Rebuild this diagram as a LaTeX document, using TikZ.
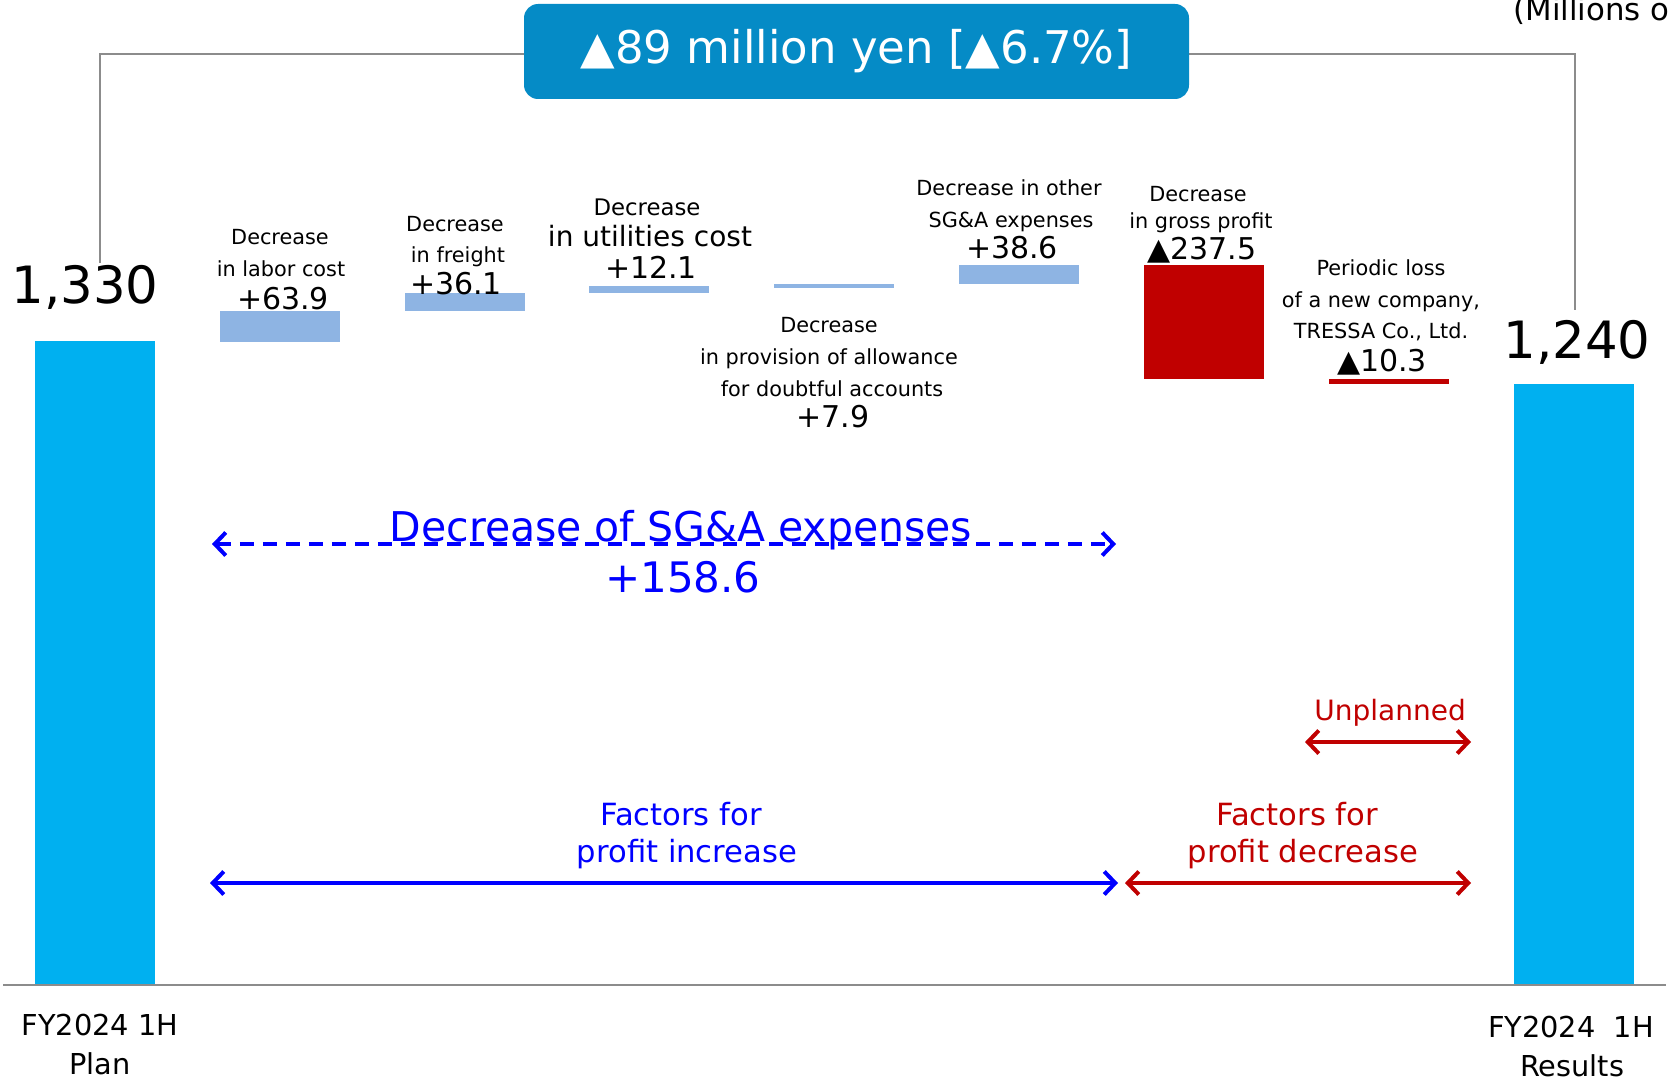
\documentclass[tikz,border=0pt]{standalone}
\usepackage{fontspec}
\setmainfont{DejaVu Sans}
\usetikzlibrary{arrows.meta}
\definecolor{barblue}{HTML}{00B0F0}
\definecolor{stepblue}{HTML}{8EB4E3}
\definecolor{lossred}{HTML}{C00000}
\definecolor{boxblue}{HTML}{058BC6}
\definecolor{linegray}{HTML}{8C8C8C}
\definecolor{textblue}{HTML}{0000FF}

\begin{document}
\begin{tikzpicture}[x=0.5pt,y=-0.5pt,
    lbl/.style={inner sep=0pt, anchor=base, font=\fontsize{10.4}{12}\selectfont},
    val/.style={inner sep=0pt, anchor=base, font=\fontsize{15}{18}\selectfont},
    total/.style={inner sep=0pt, anchor=base, font=\fontsize{25.7}{30}\selectfont},
    period/.style={inner sep=0pt, anchor=base, font=\fontsize{14.4}{17}\selectfont},
    factor/.style={inner sep=0pt, anchor=base, font=\fontsize{15.3}{18}\selectfont},
    spanarrow/.style={line width=2pt, {Straight Barb[length=5.5pt,width=11.5pt,line width=2pt]}-{Straight Barb[length=5.5pt,width=11.5pt,line width=2pt]}}]
      \useasboundingbox (0,0) rectangle (1669,1081);
      % bars
      \fill[barblue] (35,341) rectangle (155,985);
      \fill[barblue] (1514,384) rectangle (1634,985);
      \fill[stepblue] (220,311) rectangle (340,342);
      \fill[stepblue] (405,293) rectangle (525,311);
      \fill[stepblue] (589,286) rectangle (709,293);
      \fill[stepblue] (774,284) rectangle (894,288);
      \fill[stepblue] (959,265) rectangle (1079,284);
      \fill[lossred] (1144,265) rectangle (1264,379);
      \fill[lossred] (1329,379) rectangle (1449,384);
      \draw[linegray, line width=1pt] (3,985) -- (1666,985);
      % difference box
      \coordinate (lfoot) at (100,263);
      \coordinate (rfoot) at (1575,310);
      \draw[linegray, line width=0.8pt] (lfoot) |- (856,54) -| (rfoot);
      \node[fill=boxblue, rounded corners=7pt, minimum width=332.5pt, minimum height=47.5pt, inner sep=0pt,
        text=white, font=\fontsize{22.5}{26}\selectfont] (gap) at (856.5,51.5) {▲89 million yen [▲6.7\%]};
      \node[inner sep=0pt, anchor=base west, font=\fontsize{15.4}{18}\selectfont] (unit) at (1513,21) {(Millions of yen)};
      % totals
      \node[total] (plan) at (85,303) {1,330};
      \node[total] (result) at (1577,358) {1,240};
      \node[period] (planA) at (100,1035) {FY2024 1H};
      \node[period] (planB) at (100,1074) {Plan};
      \node[period] (resA) at (1571,1037) {FY2024\ \ 1H};
      \node[period] (resB) at (1572,1076) {Results};
      % step labels
      \node[lbl] (laborA) at (280,244) {Decrease};
      \node[lbl] (laborB) at (281,276) {in labor cost};
      \node[val] (laborV) at (283,309) {+63.9};
      \node[lbl] (freightA) at (455,231) {Decrease};
      \node[lbl] (freightB) at (458,262) {in freight};
      \node[val] (freightV) at (456,294) {+36.1};
      \node[lbl, font=\fontsize{11.4}{13}\selectfont] (utilA) at (647,215) {Decrease};
      \node[lbl, font=\fontsize{14}{16}\selectfont] (utilB) at (650,246) {in utilities cost};
      \node[val] (utilV) at (651,278) {+12.1};
      \node[lbl] (provA) at (829,332) {Decrease};
      \node[lbl] (provB) at (829,364) {in provision of allowance};
      \node[lbl] (provC) at (832,396) {for doubtful accounts};
      \node[val] (provV) at (833,427) {+7.9};
      \node[lbl] (otherA) at (1009,195) {Decrease in other};
      \node[lbl] (otherB) at (1011,227) {SG\&A expenses};
      \node[val] (otherV) at (1012,258) {+38.6};
      \node[lbl] (grossA) at (1198,201) {Decrease};
      \node[lbl] (grossB) at (1201,228) {in gross profit};
      \node[val] (grossV) at (1202,259) {▲237.5};
      \node[lbl] (tressaA) at (1381,275) {Periodic loss};
      \node[lbl] (tressaB) at (1381,307) {of a new company,};
      \node[lbl] (tressaC) at (1381,338) {TRESSA Co., Ltd.};
      \node[val] (tressaV) at (1382,371) {▲10.3};
      % SG&A span
      \coordinate (sgaL) at (212,544);
      \coordinate (sgaR) at (1116,544);
      \draw[textblue, spanarrow, line width=1.6pt, dash pattern=on 7pt off 4.5pt] (sgaL) -- (sgaR);
      \node[inner sep=0pt, anchor=base, text=textblue, font=\fontsize{20.5}{24}\selectfont] (sgaA) at (681,541) {Decrease of SG\&A expenses};
      \node[inner sep=0pt, anchor=base, text=textblue, font=\fontsize{21}{24}\selectfont] (sgaV) at (683,592) {+158.6};
      % factor spans
      \coordinate (upL) at (1305,742);
      \coordinate (upR) at (1471,742);
      \draw[lossred, spanarrow] (upL) -- (upR);
      \node[inner sep=0pt, anchor=base, text=lossred, font=\fontsize{14}{16}\selectfont] (unplan) at (1390,720) {Unplanned};
      \coordinate (incL) at (210,883);
      \coordinate (incR) at (1118,883);
      \coordinate (decL) at (1125,883);
      \coordinate (decR) at (1471,883);
      \draw[textblue, spanarrow] (incL) -- (incR);
      \draw[lossred, spanarrow] (decL) -- (decR);
      \node[factor, text=textblue] (incA) at (681,825) {Factors for};
      \node[factor, text=textblue] (incB) at (687,862) {profit increase};
      \node[factor, text=lossred] (decA) at (1297,825) {Factors for};
      \node[factor, text=lossred] (decB) at (1303,862) {profit decrease};
\end{tikzpicture}
\end{document}
